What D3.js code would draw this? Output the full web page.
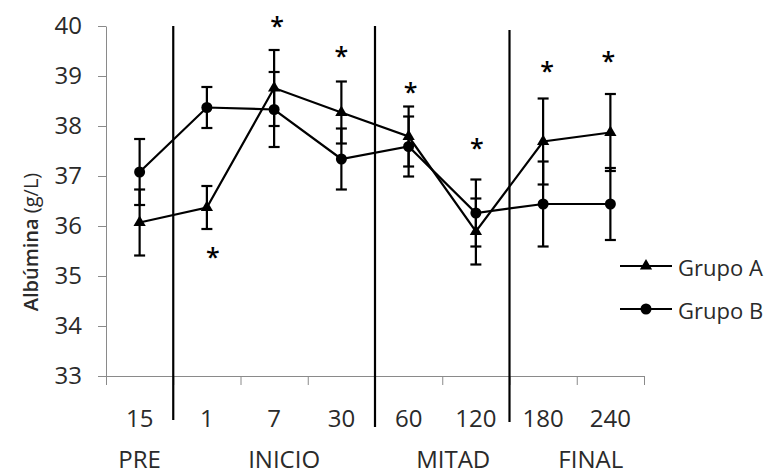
<!DOCTYPE html>
<html>
<head>
<meta charset="utf-8">
<script src="https://cdn.jsdelivr.net/npm/d3@7"></script>
<style>
  html, body { margin: 0; padding: 0; background: #fff; }
  svg { display: block; font-family: "Open Sans", sans-serif; }
</style>
</head>
<body>
<svg id="chart" width="767" height="474"></svg>
<script>
// ---- data ----
const categories = ["15", "1", "7", "30", "60", "120", "180", "240"];
const groupLabels = ["PRE", "INICIO", "MITAD", "FINAL"];
const groupFirst = [0, 1, 4, 6];
const groupLast = [0, 3, 5, 7];
const separatorsAfter = [0, 3, 5];
const grupoA = [36.07, 36.37, 38.76, 38.27, 37.79, 35.89, 37.69, 37.87];
const errA = [0.66, 0.43, 0.76, 0.62, 0.60, 0.66, 0.86, 0.77];
const grupoB = [37.08, 38.37, 38.33, 37.34, 37.59, 36.26, 36.44, 36.44];
const errB = [0.66, 0.41, 0.75, 0.61, 0.60, 0.67, 0.85, 0.72];
const starLevel = [null, 35.48, 40.1, 39.5, 38.78, 37.66, 39.2, 39.4];
const yTicks = [33, 34, 35, 36, 37, 38, 39, 40];
const seriesNames = ["Grupo A", "Grupo B"];

// ---- layout ----
const svg = d3.select("#chart");
const pLeft = 106, pRight = 644, pTop = 26, pBottom = 376;
const y = d3.scaleLinear().domain([33, 40]).range([pBottom, pTop]);
const x = d3.scaleBand().domain(categories).range([pLeft, pRight]);
const xb = d3.scaleLinear().domain([0, categories.length]).range([pLeft, pRight]);
const cx = i => x(categories[i]) + x.bandwidth() / 2;
const axisColor = "#8a8a8a";
const textColor = "#2a2a2a";

// y axis
const gy = svg.append("g").attr("transform", `translate(${pLeft},0)`)
  .call(d3.axisLeft(y).tickValues(yTicks).tickFormat(d3.format("d")).tickSize(8).tickSizeOuter(0).tickPadding(16));
gy.select(".domain").attr("stroke", axisColor);
gy.selectAll(".tick line").attr("stroke", axisColor);
gy.selectAll(".tick text").attr("fill", textColor).style("font-size", "24px").style("font-family", "Open Sans");

// x axis boundary ticks
const gxb = svg.append("g").attr("transform", `translate(0,${pBottom})`)
  .call(d3.axisBottom(xb).tickValues(d3.range(categories.length + 1)).tickFormat("").tickSize(9).tickSizeOuter(0));
gxb.select(".domain").attr("stroke", axisColor);
gxb.selectAll(".tick line").attr("stroke", axisColor);

// x axis labels
const gx = svg.append("g").attr("transform", `translate(0,${pBottom})`)
  .call(d3.axisBottom(x).tickSize(0).tickPadding(34));
gx.select(".domain").remove();
gx.selectAll(".tick text").attr("fill", textColor).style("font-size", "24px").style("font-family", "Open Sans");

// group labels
const groupDx = [0, 10, 11, 14];
svg.append("g").selectAll("text").data(groupLabels).join("text")
  .attr("x", (d, i) => (cx(groupFirst[i]) + cx(groupLast[i])) / 2 + groupDx[i])
  .attr("y", 468)
  .attr("text-anchor", "middle")
  .attr("fill", textColor)
  .style("font-size", "24px")
  .text(d => d);

// separators
const sepTop = [40, 40, 39.92];
const sepBottom = [32.12, 31.98, 32.08];
svg.append("g").selectAll("line").data(separatorsAfter).join("line")
  .attr("x1", d => xb(d + 1)).attr("x2", d => xb(d + 1))
  .attr("y1", (d, i) => y(sepTop[i])).attr("y2", (d, i) => y(sepBottom[i]))
  .attr("stroke", "#000").attr("stroke-width", 2.2);

// y axis title
const yt = svg.append("text")
  .attr("transform", `translate(38,242) rotate(-90)`)
  .attr("text-anchor", "middle")
  .attr("fill", textColor)
  .style("font-size", "20px");
yt.append("tspan").style("font-weight", 600).text("Albúmina ");
yt.append("tspan").text("(g/L)");

// lines
const line = d3.line().x((d, i) => cx(i)).y(d => y(d));
[grupoA, grupoB].forEach(s => {
  svg.append("path").datum(s).attr("d", line)
    .attr("fill", "none").attr("stroke", "#000").attr("stroke-width", 2.2);
});

// error bars
const capW = 11;
[[grupoA, errA], [grupoB, errB]].forEach(([s, e]) => {
  const g = svg.append("g").attr("stroke", "#000").attr("stroke-width", 2.2);
  s.forEach((v, i) => {
    const xx = cx(i);
    g.append("line").attr("x1", xx).attr("x2", xx).attr("y1", y(v - e[i])).attr("y2", y(v + e[i]));
    g.append("line").attr("x1", xx - capW / 2).attr("x2", xx + capW / 2).attr("y1", y(v - e[i])).attr("y2", y(v - e[i]));
    g.append("line").attr("x1", xx - capW / 2).attr("x2", xx + capW / 2).attr("y1", y(v + e[i])).attr("y2", y(v + e[i]));
  });
});

// markers
const tri = d3.symbol().type(d3.symbolTriangle).size(65);
const cir = d3.symbol().type(d3.symbolCircle).size(95);
svg.append("g").selectAll("path").data(grupoA).join("path")
  .attr("d", tri).attr("transform", (d, i) => `translate(${cx(i)},${y(d)})`).attr("fill", "#000");
svg.append("g").selectAll("path").data(grupoB).join("path")
  .attr("d", cir).attr("transform", (d, i) => `translate(${cx(i)},${y(d)})`).attr("fill", "#000");

// asterisks
const starDx = [0, 6, 3, 0, 2, 1, 4, -2];
svg.append("g").selectAll("text").data(starLevel.map((v, i) => ({ v, i })).filter(d => d.v !== null)).join("text")
  .attr("x", d => cx(d.i) + starDx[d.i])
  .attr("y", d => y(d.v) + 14)
  .attr("text-anchor", "middle")
  .attr("fill", "#000")
  .style("font-size", "25px")
  .style("font-weight", 600)
  .text("*");

// legend
const legY = [266, 309];
const leg = svg.append("g");
seriesNames.forEach((name, k) => {
  leg.append("line").attr("x1", 620).attr("x2", 672).attr("y1", legY[k]).attr("y2", legY[k])
    .attr("stroke", "#000").attr("stroke-width", 2.2);
  leg.append("path").attr("d", k === 0 ? tri : cir).attr("transform", `translate(646,${legY[k]})`).attr("fill", "#000");
  leg.append("text").attr("x", 678).attr("y", legY[k] + 10).attr("fill", textColor)
    .style("font-size", "22px").text(name);
});
</script>
</body>
</html>
